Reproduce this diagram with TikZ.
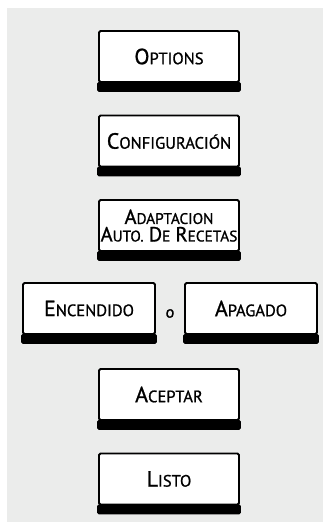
\documentclass[tikz,border=0pt]{standalone}
\usepackage{fontspec}
\setmainfont{PT Sans}[FakeBold=1]
\usetikzlibrary{calc}
\definecolor{panel}{RGB}{235,236,235}
\newcommand\smc[2]{{\fontsize{22}{22}\selectfont #1}#2}
\newcommand\smcs[2]{{\fontsize{20.5}{20.5}\selectfont #1}#2}
\tikzset{
  keybox/.style={draw=black, line width=1.8pt, fill=white, rounded corners=1.5pt,
    minimum width=140pt, text width=138pt, minimum height=51pt, inner sep=0pt, align=center,
    font=\fontsize{16.5}{17}\selectfont},
  smallbox/.style={keybox, minimum width=132pt, text width=130pt},
  twoline/.style={keybox, font=\fontsize{15.3}{17.5}\selectfont},
  band/.style={fill=black, rounded corners=1.5pt}
}
\newcommand\keyband[1]{\fill[band] ($(#1.south west)+(-0.9pt,0.9pt)$) rectangle ($(#1.south east)+(0.9pt,-9pt)$);}
\begin{document}
\begin{tikzpicture}[x=1pt,y=1pt]
\useasboundingbox (0,0) rectangle (323,522);
\fill[white] (0,0) rectangle (323,522);
\fill[panel] (7,0) rectangle (323,514);
% y = 522 - y_px
\node[keybox] (opt) at (169,465.5) {\smc{O}{PTIONS}};
\node[keybox] (conf) at (169,381) {\smc{C}{ONFIGURACIÓN}};
\node[twoline] (adapt) at (169,296.5) {\smcs{A}{DAPTACION}\\\smcs{A}{UTO.} \smcs{D}{E} \smcs{R}{ECETAS}};
\node[smallbox] (enc) at (89,213.5) {\smc{E}{NCENDIDO}};
\node[smallbox] (apag) at (251,213.5) {\smc{A}{PAGADO}};
\node[font=\fontsize{16.5}{17}\selectfont, inner sep=0pt] (o) at (170,208.5) {o};
\node[keybox] (acep) at (169,127.5) {\smc{A}{CEPTAR}};
\node[keybox] (listo) at (169,43) {\smc{L}{ISTO}};
\foreach \n in {opt,conf,adapt,enc,apag,acep,listo} {\keyband{\n}}
\end{tikzpicture}
\end{document}
